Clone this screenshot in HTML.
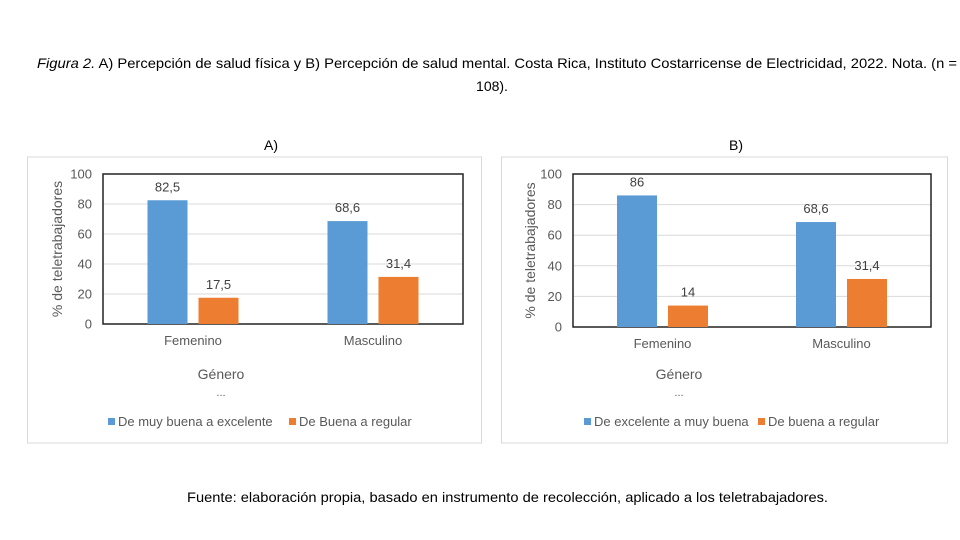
<!DOCTYPE html>
<html><head><meta charset="utf-8"><style>
html,body{margin:0;padding:0;background:#fff;width:960px;height:540px;overflow:hidden}
svg{display:block;font-family:"Liberation Sans",Arial,sans-serif}
</style></head><body>
<svg id="root" width="960" height="540" viewBox="0 0 960 540">
<text x="37" y="68" font-size="14" fill="#000" textLength="920" lengthAdjust="spacingAndGlyphs"><tspan font-style="italic">Figura 2.</tspan> A) Percepción de salud física y B) Percepción de salud mental. Costa Rica, Instituto Costarricense de Electricidad, 2022. Nota. (n =</text>
<text x="492" y="91" text-anchor="middle" font-size="14" fill="#000">108).</text>
<text x="271" y="150" text-anchor="middle" font-size="14" fill="#000">A)</text>
<text x="736" y="150" text-anchor="middle" font-size="14" fill="#000">B)</text>
<text x="187" y="502" font-size="14" fill="#000" textLength="641" lengthAdjust="spacingAndGlyphs">Fuente: elaboración propia, basado en instrumento de recolección, aplicado a los teletrabajadores.</text>
<g id="chartA"></g>
<g id="chartB"></g>
</svg>
<script>
const categories = ["Femenino", "Masculino"];
const yTicks = [0, 20, 40, 60, 80, 100];
const aSeries1 = [82.5, 68.6];
const aSeries2 = [17.5, 31.4];
const aLabels1 = ["82,5", "68,6"];
const aLabels2 = ["17,5", "31,4"];
const aLegend = ["De muy buena a excelente", "De Buena a regular"];
const bSeries1 = [86, 68.6];
const bSeries2 = [14, 31.4];
const bLabels1 = ["86", "68,6"];
const bLabels2 = ["14", "31,4"];
const bLegend = ["De excelente a muy buena", "De buena a regular"];

const NS = "http://www.w3.org/2000/svg";
function mk(parent, tag, attrs, text) {
  const e = document.createElementNS(NS, tag);
  for (const k in attrs) e.setAttribute(k, attrs[k]);
  if (text !== undefined) e.textContent = text;
  parent.appendChild(e);
  return e;
}
function draw(g, cfg, s1, s2, l1, l2, legend, prefix) {
  const box = mk(g, "rect", {x: cfg.bx, y: 157, width: cfg.bw, height: 286, fill: "#fff", stroke: "#d9d9d9", "stroke-width": 1});
  
  
  const x0 = cfg.px0, x1 = cfg.px1, yTop = 174, yBot = cfg.yBot;
  const yScale = v => yBot - (v / 100) * (yBot - yTop);
  yTicks.forEach(t => {
    const y = yScale(t);
    const gl = mk(g, "line", {x1: x0, x2: x1, y1: y, y2: y, stroke: "#d9d9d9", "stroke-width": 1});
    
    
    const tl = mk(g, "text", {x: x0 - 11, y: y + 4.5, "text-anchor": "end", "font-size": 13, fill: "#595959"}, String(t));
    
    
  });
  const frame = mk(g, "rect", {x: x0, y: yTop, width: x1 - x0, height: yBot - yTop, fill: "none", stroke: "#222", "stroke-width": 1.5});
  
  
  const catW = (x1 - x0) / categories.length;
  const bw = 40, gap = 11;
  categories.forEach((c, i) => {
    const cx = x0 + catW * (i + 0.5);
    [[s1[i], l1[i], "#5b9bd5", cx - gap / 2 - bw, "blue"], [s2[i], l2[i], "#ed7d31", cx + gap / 2, "orange"]].forEach(([v, lab, col, bx, nm]) => {
      const y = yScale(v);
      const r = mk(g, "rect", {x: bx, y: y, width: bw, height: yBot - y, fill: col});
      
      
      const t = mk(g, "text", {x: bx + bw / 2, y: y - 9, "text-anchor": "middle", "font-size": 13, fill: "#404040"}, lab);
      
      
    });
    const cl = mk(g, "text", {x: cx, y: yBot + 21, "text-anchor": "middle", "font-size": 13, fill: "#595959"}, c);
    
    
  });
  const yt = mk(g, "text", {x: 0, y: 0, transform: "translate(" + cfg.ytx + "," + ((yTop + yBot) / 2) + ") rotate(-90)", "text-anchor": "middle", "font-size": 14, fill: "#595959"}, "% de teletrabajadores");
  
  
  const xt = mk(g, "text", {x: cfg.gx, y: 379, "text-anchor": "middle", "font-size": 14, fill: "#595959"}, "Género");
  
  
  const dots = mk(g, "text", {x: cfg.gx, y: 396, "text-anchor": "middle", "font-size": 11, fill: "#595959"}, "...");
  
  
  [[legend[0], "#5b9bd5", cfg.lx1], [legend[1], "#ed7d31", cfg.lx2]].forEach(([txt, col, lx], k) => {
    const sw = mk(g, "rect", {x: lx, y: 418, width: 7, height: 7, fill: col});
    
    
    const lt = mk(g, "text", {x: lx + 10, y: 426, "font-size": 13, fill: "#595959"}, txt);
    
    
  });
}
draw(document.getElementById("chartA"), {bx: 27.5, bw: 454, px0: 103, px1: 463, yBot: 324, ytx: 62, gx: 221, lx1: 108, lx2: 289}, aSeries1, aSeries2, aLabels1, aLabels2, aLegend, "a");
draw(document.getElementById("chartB"), {bx: 501.5, bw: 446, px0: 573, px1: 931, yBot: 327, ytx: 535, gx: 679, lx1: 584, lx2: 758}, bSeries1, bSeries2, bLabels1, bLabels2, bLegend, "b");
</script>
</body></html>
